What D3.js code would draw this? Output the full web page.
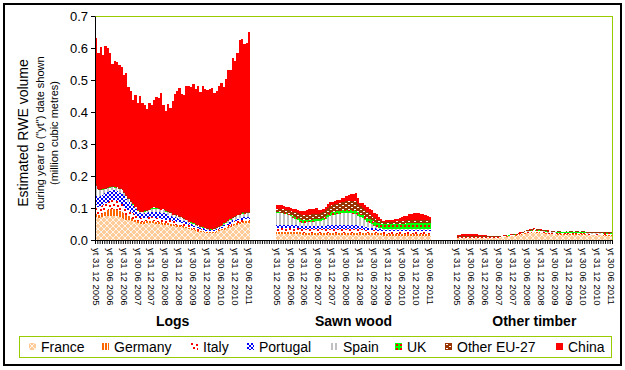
<!DOCTYPE html>
<html>
<head>
<meta charset="utf-8">
<script src="https://cdn.jsdelivr.net/npm/d3@7"></script>
<style>
body { margin: 0; background: #fff; }
svg text { font-family: Arial, "Liberation Sans", sans-serif; fill: #000; }
</style>
</head>
<body>
<svg class="rwe_chart" width="625" height="370"></svg>
<script>
var groups = ["Logs", "Sawn wood", "Other timber"];
var countries = ["France", "Germany", "Italy", "Portugal", "Spain", "UK", "Other EU-27", "China"];
var tickLabels = ["yt 31 12 2005", "yt 30 06 2006", "yt 31 12 2006", "yt 30 06 2007",
    "yt 31 12 2007", "yt 30 06 2008", "yt 31 12 2008", "yt 30 06 2009",
    "yt 31 12 2009", "yt 30 06 2010", "yt 31 12 2010", "yt 30 06 2011"];
var yTicks = [0, 0.1, 0.2, 0.3, 0.4, 0.5, 0.6, 0.7];

// ---- Logs (million m3 RWE, monthly yt values Dec 2005 - Jun 2011)
var franceLogs = [.072,.070,.071,.073,.074,.075,.076,.076,.075,.074,
    .072,.070,.067,.064,.062,.060,.058,.055,.052,.050,
    .050,.051,.052,.053,.053,.052,.051,.050,.049,.048,
    .047,.046,.045,.044,.043,.042,.041,.040,.038,.037,
    .034,.032,.030,.028,.026,.025,.024,.023,.022,.022,
    .022,.023,.025,.028,.030,.032,.035,.038,.041,.044,
    .046,.048,.050,.052,.053,.054,.054];
var germanyLogs = [.010,.008,.010,.012,.015,.018,.020,.022,.022,.021,
    .020,.018,.016,.014,.012,.010,.009,.008,.008,.007,
    .007,.007,.007,.007,.007,.007,.006,.006,.006,.006,
    .006,.006,.005,.005,.005,.005,.005,.005,.005,.004,
    .004,.004,.004,.003,.003,.003,.003,.002,.002,.002,
    .002,.002,.003,.003,.003,.004,.004,.004,.004,.005,
    .005,.005,.005,.005,.005,.005,.005];
var italyLogs = [.027,.025,.024,.025,.026,.027,.028,.028,.028,.027,
    .026,.025,.024,.022,.020,.018,.016,.014,.012,.011,
    .011,.011,.011,.012,.012,.012,.012,.012,.012,.012,
    .011,.011,.011,.010,.010,.010,.009,.009,.008,.008,
    .008,.007,.007,.007,.006,.005,.005,.004,.004,.003,
    .003,.003,.004,.004,.005,.005,.005,.006,.006,.006,
    .007,.007,.007,.007,.007,.007,.007];
var portugalLogs = [.030,.030,.032,.032,.031,.031,.030,.030,.030,.030,
    .029,.030,.029,.028,.026,.024,.022,.019,.016,.015,
    .014,.014,.014,.015,.016,.017,.018,.018,.018,.018,
    .017,.016,.015,.014,.013,.012,.011,.010,.009,.008,
    .007,.007,.006,.006,.005,.005,.004,.004,.003,.003,
    .003,.003,.003,.004,.004,.005,.005,.005,.006,.006,
    .006,.006,.006,.007,.007,.007,.007];
var spainLogs = [.030,.022,.018,.015,.013,.012,.010,.009,.009,.010,
    .011,.012,.011,.010,.008,.007,.005,.004,.004,.004,
    .004,.005,.006,.008,.009,.010,.010,.010,.010,.009,
    .008,.007,.007,.006,.006,.006,.005,.005,.005,.004,
    .004,.004,.004,.003,.003,.003,.003,.003,.002,.002,
    .002,.002,.002,.002,.003,.004,.005,.006,.007,.008,
    .008,.009,.009,.010,.010,.010,.010];
var ukLogs = [.002,.001,.001,.001,.001,.001,.001,.001,.001,.001,
    .001,.001,.001,.001,.001,.001,.001,.001,.001,.001,
    .001,.003,.002,.001,.002,.003,.002,.001,.001,.001,
    .001,.002,.001,.001,.001,.001,.001,.001,.001,.001,
    .001,.001,.001,.001,.001,.001,.001,.001,.001,.001,
    .001,.001,.001,.001,.001,.002,.001,.001,.001,.001,
    .001,.001,.001,.002,.002,.001,.002];
var otherEuLogs = [.004,.003,.002,.002,.002,.002,.002,.002,.002,.002,
    .002,.002,.002,.002,.002,.002,.002,.002,.002,.002,
    .002,.002,.002,.002,.002,.002,.002,.002,.002,.002,
    .002,.002,.002,.002,.002,.002,.002,.002,.002,.002,
    .002,.002,.002,.002,.002,.002,.002,.002,.002,.002,
    .002,.002,.002,.002,.002,.002,.002,.002,.002,.002,
    .002,.002,.002,.003,.003,.003,.003];
var chinaLogs = [.456,.425,.444,.418,.444,.435,.418,.382,.393,.391,
    .386,.382,.366,.381,.347,.344,.324,.350,.334,.360,
    .338,.328,.316,.331,.320,.335,.345,.344,.360,.325,
    .311,.336,.328,.352,.375,.388,.401,.383,.384,.417,
    .421,.422,.433,.422,.436,.419,.438,.432,.433,.438,
    .440,.423,.426,.436,.444,.423,.447,.470,.463,.498,
    .485,.507,.545,.543,.525,.530,.562];

// ---- Sawn wood
var franceSawn = [.019,.019,.019,.019,.019,.019,.019,.018,.018,.018,
    .018,.017,.017,.017,.017,.017,.017,.017,.017,.017,
    .017,.017,.017,.017,.017,.017,.017,.017,.017,.017,
    .017,.017,.017,.017,.017,.017,.017,.017,.016,.016,
    .016,.016,.015,.015,.015,.015,.014,.014,.014,.014,
    .014,.014,.014,.014,.014,.014,.014,.014,.014,.014,
    .014,.014,.014,.014,.014,.014,.014];
var germanySawn = [.007,.007,.007,.007,.007,.007,.007,.007,.007,.007,
    .006,.006,.006,.006,.006,.006,.006,.006,.006,.006,
    .006,.006,.006,.006,.006,.006,.006,.006,.006,.006,
    .006,.006,.006,.006,.006,.006,.006,.006,.006,.006,
    .006,.006,.006,.006,.006,.006,.006,.006,.006,.006,
    .006,.006,.006,.006,.006,.006,.006,.006,.006,.006,
    .006,.006,.006,.006,.006,.006,.006];
var italySawn = [.012,.012,.012,.012,.012,.012,.012,.012,.012,.012,
    .011,.011,.011,.011,.011,.011,.011,.011,.011,.011,
    .011,.011,.011,.012,.012,.012,.012,.012,.012,.012,
    .012,.012,.012,.012,.012,.011,.011,.011,.010,.010,
    .010,.009,.009,.008,.008,.007,.007,.007,.007,.007,
    .007,.007,.007,.007,.007,.007,.007,.007,.007,.007,
    .007,.007,.007,.007,.007,.007,.007];
var portugalSawn = [.010,.010,.010,.010,.010,.010,.010,.010,.010,.010,
    .010,.010,.010,.011,.011,.011,.011,.011,.011,.011,
    .011,.012,.012,.012,.012,.012,.012,.012,.012,.012,
    .012,.012,.011,.011,.011,.010,.009,.009,.008,.008,
    .007,.007,.006,.006,.005,.005,.004,.004,.004,.004,
    .004,.004,.004,.004,.004,.004,.004,.004,.004,.004,
    .004,.004,.004,.004,.004,.004,.004];
var spainSawn = [.036,.036,.035,.034,.032,.030,.027,.023,.019,.015,
    .012,.010,.010,.010,.010,.011,.012,.013,.013,.014,
    .016,.020,.025,.029,.031,.032,.034,.035,.036,.037,
    .037,.037,.037,.036,.035,.032,.028,.025,.021,.017,
    .014,.011,.008,.006,.005,.004,.004,.004,.003,.003,
    .003,.003,.003,.003,.003,.003,.003,.003,.003,.003,
    .003,.003,.003,.003,.003,.003,.003];
var ukSawn = [.002,.002,.002,.002,.003,.003,.004,.005,.006,.007,
    .008,.008,.008,.008,.008,.008,.008,.008,.008,.008,
    .008,.009,.009,.009,.009,.010,.010,.010,.010,.010,
    .010,.011,.011,.011,.011,.011,.011,.011,.012,.012,
    .012,.012,.013,.013,.014,.014,.014,.015,.015,.015,
    .016,.016,.016,.017,.017,.017,.018,.018,.018,.018,
    .018,.018,.018,.018,.018,.018,.018];
var otherEuSawn = [.012,.012,.012,.012,.012,.012,.013,.014,.014,.015,
    .015,.016,.016,.016,.016,.016,.016,.016,.016,.016,
    .017,.018,.019,.020,.021,.022,.023,.024,.025,.026,
    .027,.028,.029,.029,.029,.027,.024,.022,.020,.018,
    .016,.014,.012,.010,.009,.008,.007,.007,.007,.007,
    .007,.007,.008,.008,.009,.009,.010,.010,.011,.011,
    .011,.011,.011,.011,.011,.011,.011];
var chinaSawn = [.011,.011,.011,.010,.009,.009,.008,.008,.010,.010,
    .012,.013,.014,.014,.017,.017,.017,.017,.013,.011,
    .010,.011,.013,.013,.012,.011,.011,.010,.012,.012,
    .016,.017,.021,.022,.027,.016,.011,.014,.015,.017,
    .017,.019,.016,.016,.011,.007,.004,.004,.006,.007,
    .007,.009,.008,.011,.013,.015,.014,.018,.019,.020,
    .020,.020,.019,.017,.015,.012,.010];

// ---- Other timber
var franceOther = [.006,.006,.006,.006,.006,.006,.006,.006,.006,.006,
    .006,.006,.006,.006,.006,.006,.006,.006,.006,.008,
    .009,.010,.011,.012,.013,.014,.015,.017,.018,.020,
    .021,.022,.023,.024,.023,.023,.022,.021,.020,.019,
    .019,.018,.018,.017,.017,.017,.017,.017,.017,.017,
    .017,.017,.017,.017,.017,.017,.016,.016,.016,.016,
    .015,.015,.015,.014,.014,.014,.014];
var germanyOther = [.001,.001,.001,.001,.001,.001,.001,.001,.001,.001,
    .001,.001,.001,.001,.001,.001,.001,.001,.001,.001,
    .001,.001,.001,.001,.001,.001,.001,.001,.001,.001,
    .001,.001,.001,.001,.001,.001,.001,.001,.001,.001,
    .001,.001,.001,.001,.001,.001,.001,.001,.001,.001,
    .001,.001,.001,.001,.001,.001,.001,.001,.001,.001,
    .001,.001,.001,.001,.001,.001,.001];
var italyOther = [.002,.002,.002,.002,.002,.002,.002,.002,.002,.002,
    .002,.002,.002,.002,.002,.002,.002,.002,.002,.002,
    .002,.002,.002,.002,.002,.002,.003,.003,.003,.003,
    .004,.004,.004,.004,.004,.004,.004,.003,.003,.003,
    .003,.003,.003,.003,.003,.003,.003,.003,.003,.003,
    .003,.003,.003,.003,.003,.003,.003,.003,.003,.003,
    .003,.003,.003,.003,.003,.003,.003];
var portugalOther = [0,0,0,0,0,0,0,0,0,0, 0,0,0,0,0,0,0,0,0,0,
    0,0,0,0,0,0,0,0,0,0, 0,0,0,0,0,0,0,0,0,0,
    0,0,0,0,0,0,0,0,0,0, 0,0,0,0,0,0,0,0,0,0,
    0,0,0,0,0,0,0];
var spainOther = [0,0,0,0,0,0,0,0,0,0, 0,0,0,0,0,0,0,0,0,0,
    0,0,0,0,0,0,0,0,0,0,
    .001,.001,.001,.001,.001,.001,.001,.002,.002,.002,
    .002,.002,.002,.002,.002,.002,.002,.002,.002,.002,
    .002,.002,.002,.002,.002,.002,.002,.002,.002,.002,
    .002,.002,.002,.002,.002,.002,.002];
var ukOther = [.001,.001,.001,.001,.001,.001,.001,.001,.001,.001,
    .001,.001,.001,.001,.001,.001,.001,.001,.001,.001,
    .001,.001,.001,.001,.001,.001,.001,.001,.001,.001,
    .001,.001,.001,.001,.001,.001,.001,.001,.001,.001,
    .001,.001,.001,.001,.001,.001,.001,.001,.001,.001,
    .001,.001,.001,.001,.001,.001,.001,.001,.001,.001,
    .001,.001,.001,.001,.001,.001,.001];
var otherEuOther = [.001,.001,.001,.001,.001,.001,.001,.001,.001,.001,
    .001,.001,.001,.001,.001,.001,.001,.001,.001,.001,
    .001,.001,.001,.001,.001,.001,.001,.001,.002,.002,
    .002,.003,.004,.004,.004,.004,.003,.003,.003,.003,
    .003,.003,.003,.003,.003,.002,.002,.003,.003,.003,
    .003,.003,.003,.003,.003,.003,.003,.003,.003,.003,
    .003,.003,.003,.003,.003,.003,.003];
var chinaOther = [.006,.006,.007,.007,.007,.008,.008,.008,.007,.005,
    .004,.004,.004,.003,.003,.003,.002,.001,.001,.001,
    .001,.001,.001,.001,.001,.001,.001,.001,.001,.001,
    .001,.001,.001,.001,.001,.001,.001,.001,.001,.001,
    0,0,0,0,0,0,0,0,0,0, 0,0,0,0,0,0,0,0,0,0,
    0,0,0,0,0,0,0];

var keys = ["fr", "de", "it", "pt", "es", "uk", "oeu", "cn"];
var table = [
    [franceLogs, germanyLogs, italyLogs, portugalLogs, spainLogs, ukLogs, otherEuLogs, chinaLogs],
    [franceSawn, germanySawn, italySawn, portugalSawn, spainSawn, ukSawn, otherEuSawn, chinaSawn],
    [franceOther, germanyOther, italyOther, portugalOther, spainOther, ukOther, otherEuOther, chinaOther]
];

// 67 months per group, 11 empty slots between groups
var groupStart = [0, 78, 156],
    nSlots = 223;

var rows = [];
table.forEach(function (series, g) {
    series[0].forEach(function (v, m) {
        var row = { slot: groupStart[g] + m, month: m, group: g };
        keys.forEach(function (k, j) { row[k] = series[j][m]; });
        rows.push(row);
    });
});

var svg = d3.select('.rwe_chart');

var margin = { top: 16, left: 95, right: 13, bottom: 130 },
    width = 625 - margin.left - margin.right,
    height = 370 - margin.top - margin.bottom;

var xScale = d3.scaleBand().domain(d3.range(nSlots)).range([0, width]).padding(0),
    xEdge = d3.scaleLinear().domain([0, nSlots]).range([0, width]),
    yScale = d3.scaleLinear().domain([0, 0.7]).range([height, 0]);

// patterns
var defs = svg.append("defs");

function addPattern(id, w, h, bg) {
    var p = defs.append("pattern")
        .attr("id", id)
        .attr("patternUnits", "userSpaceOnUse")
        .attr("width", w)
        .attr("height", h);
    p.append("rect").attr("width", w).attr("height", h).attr("fill", bg);
    return p;
}

var pFr = addPattern("p-fr", 6, 6, "#FFCC99");
pFr.append("path")
    .attr("d", "M0,6L6,0M-1,1L1,-1M5,7L7,5M0,0L6,6")
    .attr("stroke", "#fff").attr("stroke-width", 0.8);

var pDe = addPattern("p-de", 3, 3, "#fff");
pDe.append("rect").attr("width", 2).attr("height", 3).attr("fill", "#FF6600");

var pIt = addPattern("p-it", 8, 8, "#fff");
[[0, 0], [5, 1], [2, 4], [6, 5]].forEach(function (s) {
    pIt.append("rect").attr("x", s[0]).attr("y", s[1]).attr("width", 2).attr("height", 2).attr("fill", "#FF0000");
});

var pPt = addPattern("p-pt", 4, 4, "#fff");
pPt.append("rect").attr("width", 2).attr("height", 2).attr("fill", "#0000FF");
pPt.append("rect").attr("x", 2).attr("y", 2).attr("width", 2).attr("height", 2).attr("fill", "#0000FF");

var pEs = addPattern("p-es", 4, 4, "#fff");
pEs.append("rect").attr("width", 2).attr("height", 4).attr("fill", "#C0C0C0");

var pUk = addPattern("p-uk", 4, 4, "#00FF00");
pUk.append("rect").attr("x", 1).attr("y", 1).attr("width", 2).attr("height", 2).attr("fill", "#FF0000");

var pOeu = addPattern("p-oeu", 6, 4, "#993300");
pOeu.append("rect").attr("x", 1).attr("y", 1).attr("width", 2).attr("height", 1).attr("fill", "#fff");
pOeu.append("rect").attr("x", 4).attr("y", 3).attr("width", 2).attr("height", 1).attr("fill", "#fff");

var fills = {
    fr: "url(#p-fr)", de: "url(#p-de)", it: "url(#p-it)", pt: "url(#p-pt)",
    es: "url(#p-es)", uk: "url(#p-uk)", oeu: "url(#p-oeu)", cn: "#FF0000"
};

// outer chart border
svg.append("rect")
    .attr("x", 4).attr("y", 4)
    .attr("width", 617).attr("height", 361)
    .attr("fill", "none")
    .attr("stroke", "#000")
    .attr("stroke-width", 2);

var chart = svg.append("g")
    .attr("transform", "translate(" + margin.left + "," + margin.top + ")");

// plot area border
chart.append("rect")
    .attr("x", 0.5).attr("y", 0.5)
    .attr("width", width).attr("height", height)
    .attr("fill", "none")
    .attr("stroke", "#99CC00")
    .attr("stroke-width", 1);

var stacked = d3.stack().keys(keys)(rows);

// bars snapped to whole pixels, edges shared with the neighbour, so no seams
chart.selectAll(".layer")
    .data(stacked).enter()
    .append("g")
    .attr("class", "layer")
    .attr("fill", function (d) { return fills[d.key]; })
    .attr("shape-rendering", "crispEdges")
    .selectAll("rect")
    .data(function (d) { return d; }).enter()
    .append("rect")
    .attr("x", function (d) { return Math.round(xEdge(d.data.slot)); })
    .attr("y", function (d) { return Math.round(yScale(d[1])); })
    .attr("width", function (d) { return Math.round(xEdge(d.data.slot + 1)) - Math.round(xEdge(d.data.slot)); })
    .attr("height", function (d) { return Math.round(yScale(d[0])) - Math.round(yScale(d[1])); });

// y axis
var yAxis = d3.axisLeft(yScale)
    .tickValues(yTicks)
    .tickFormat(d3.format(".1f"))
    .tickSize(4)
    .tickSizeOuter(0);

var yG = chart.append("g").call(yAxis);
yG.selectAll("text").attr("font-size", 13).attr("x", -7);
yG.select(".domain").attr("stroke", "#000");

// x axis: a small tick at every category boundary
var xAxis = d3.axisBottom(xEdge)
    .tickValues(d3.range(nSlots + 1))
    .tickSize(4)
    .tickSizeOuter(0)
    .tickFormat("");

chart.append("g")
    .attr("transform", "translate(0," + height + ")")
    .call(xAxis);

// x labels every six months
var labelSlots = [];
groupStart.forEach(function (s) {
    tickLabels.forEach(function (t, k) { labelSlots.push(s + k * 6); });
});

var labelAxis = d3.axisBottom(xScale)
    .tickValues(labelSlots)
    .tickSize(0)
    .tickFormat(function (d) {
        var g = d >= groupStart[2] ? 2 : (d >= groupStart[1] ? 1 : 0);
        return tickLabels[(d - groupStart[g]) / 6];
    });

var lab = chart.append("g")
    .attr("transform", "translate(0," + height + ")")
    .call(labelAxis);
lab.select(".domain").remove();
lab.selectAll("text")
    .attr("font-size", 9.5)
    .attr("transform", "rotate(90)")
    .attr("x", 8)
    .attr("y", 0)
    .attr("dy", "0.35em")
    .style("text-anchor", "start");

// group names
chart.selectAll(".groupName")
    .data(groups).enter()
    .append("text")
    .attr("class", "groupName")
    .attr("x", function (d, i) { return xScale(groupStart[i] + 33) + xScale.bandwidth() / 2; })
    .attr("y", 310)
    .attr("text-anchor", "middle")
    .attr("font-size", 14)
    .attr("font-weight", "bold")
    .text(function (d) { return d; });

// y axis title
var titleLines = [
    { t: "Estimated RWE volume", x: 23, s: 14 },
    { t: "during year to (\"yt\") date shown", x: 40, s: 11 },
    { t: "(million cubic metres)", x: 54, s: 11 }
];
svg.selectAll(".ytitle")
    .data(titleLines).enter()
    .append("text")
    .attr("class", "ytitle")
    .attr("transform", function (d) { return "translate(" + d.x + ",133) rotate(-90)"; })
    .attr("dy", "0.35em")
    .attr("text-anchor", "middle")
    .attr("font-size", function (d) { return d.s; })
    .text(function (d) { return d.t; });

// legend
var legend = svg.append("g");
legend.append("rect")
    .attr("x", 19.5).attr("y", 336.5)
    .attr("width", 592).attr("height", 21)
    .attr("fill", "#fff")
    .attr("stroke", "#99CC00");

var legendX = [29, 102, 191, 247, 331, 395, 445, 556];
var item = legend.selectAll(".item")
    .data(countries).enter()
    .append("g")
    .attr("class", "item")
    .attr("transform", function (d, i) { return "translate(" + legendX[i] + ",343)"; });

item.append("rect")
    .attr("width", 7).attr("height", 7)
    .attr("fill", function (d, i) { return fills[keys[i]]; });

item.append("text")
    .attr("x", 12)
    .attr("y", 9)
    .attr("font-size", 14)
    .text(function (d) { return d; });
</script>
</body>
</html>
